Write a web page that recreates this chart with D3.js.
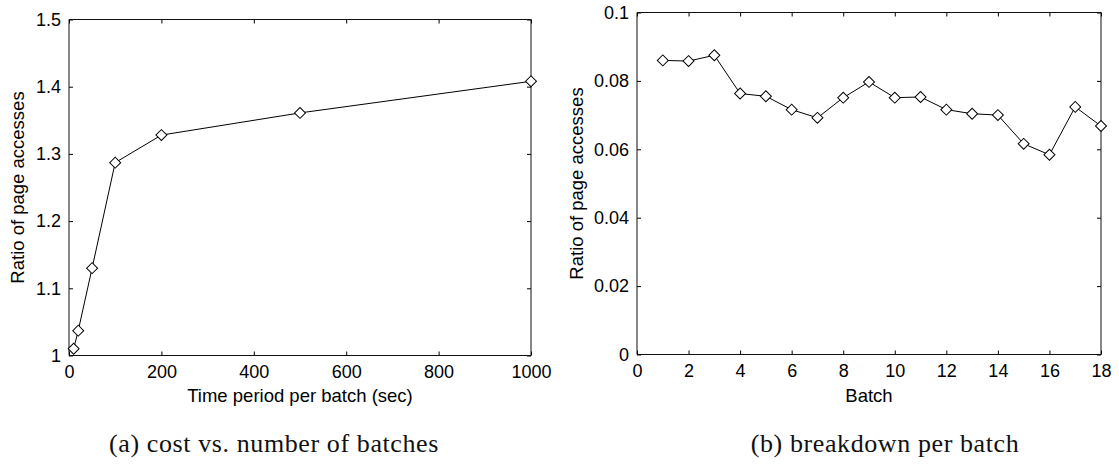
<!DOCTYPE html>
<html>
<head>
<meta charset="utf-8">
<script src="https://cdn.jsdelivr.net/npm/d3@7"></script>
<style>
  body { margin: 0; background: #fff; }
  text { font-family: "Liberation Sans", Arial, sans-serif; }
  .caption { font-family: "Liberation Serif", "DejaVu Serif", serif; }
</style>
</head>
<body>
<svg id="chart" width="1119" height="465"></svg>
<script>
// panel (a): cost vs. time period per batch
const periodX = [10, 20, 50, 100, 200, 500, 1000];
const periodRatio = [1.010, 1.037, 1.130, 1.287, 1.328, 1.361, 1.408];
const periodXTicks = [0, 200, 400, 600, 800, 1000];
const periodYTicks = [1, 1.1, 1.2, 1.3, 1.4, 1.5];

// panel (b): breakdown per batch
const batchX = [1, 2, 3, 4, 5, 6, 7, 8, 9, 10, 11, 12, 13, 14, 15, 16, 17, 18];
const batchRatio = [0.0860, 0.0858, 0.0875, 0.0763, 0.0755, 0.0716, 0.0692, 0.0751, 0.0797,
                    0.0751, 0.0753, 0.0716, 0.0704, 0.0700, 0.0616, 0.0584, 0.0724, 0.0668];
const batchXTicks = [0, 2, 4, 6, 8, 10, 12, 14, 16, 18];
const batchYTicks = [0, 0.02, 0.04, 0.06, 0.08, 0.1];

const svg = d3.select("#chart");
const tickLen = 4;
const tickFont = 18;
const titleFont = 18.5;

function panel(opts) {
  const g = svg.append("g");
  const x = d3.scaleLinear().domain(opts.xDomain).range([opts.left, opts.right]);
  const y = d3.scaleLinear().domain(opts.yDomain).range([opts.bottom, opts.top]);

  // axes with inward ticks, gnuplot style
  g.append("g")
    .attr("transform", `translate(0,${opts.bottom})`)
    .call(d3.axisBottom(x).tickValues(opts.xTicks).tickSizeInner(-tickLen).tickSizeOuter(0)
      .tickPadding(10).tickFormat(d3.format("")));
  g.append("g")
    .attr("transform", `translate(0,${opts.top})`)
    .call(d3.axisTop(x).tickValues(opts.xTicks).tickSizeInner(-tickLen).tickSizeOuter(0)
      .tickFormat(""));
  g.append("g")
    .attr("transform", `translate(${opts.left},0)`)
    .call(d3.axisLeft(y).tickValues(opts.yTicks).tickSizeInner(-tickLen).tickSizeOuter(0)
      .tickPadding(8).tickFormat(d3.format("")));
  g.append("g")
    .attr("transform", `translate(${opts.right},0)`)
    .call(d3.axisRight(y).tickValues(opts.yTicks).tickSizeInner(-tickLen).tickSizeOuter(0)
      .tickFormat(""));

  g.selectAll(".domain").remove();
  g.selectAll(".tick line").attr("stroke", "#000");
  g.selectAll(".tick text").attr("font-size", tickFont).attr("fill", "#000")
    .attr("font-family", "Liberation Sans, Arial, sans-serif");

  // frame: top/bottom crisp, sides slightly soft like the original
  const frame = g.append("g").attr("stroke", "#111").attr("stroke-width", 1);
  frame.append("line").attr("x1", opts.left).attr("x2", opts.right).attr("y1", opts.top).attr("y2", opts.top);
  frame.append("line").attr("x1", opts.left).attr("x2", opts.right).attr("y1", opts.bottom).attr("y2", opts.bottom);
  frame.append("line").attr("x1", opts.left).attr("x2", opts.left).attr("y1", opts.top).attr("y2", opts.bottom);
  frame.append("line").attr("x1", opts.right).attr("x2", opts.right).attr("y1", opts.top).attr("y2", opts.bottom);

  // line + markers
  const pts = opts.xs.map((d, i) => [d, opts.ys[i]]);
  g.append("path")
    .datum(pts)
    .attr("fill", "none").attr("stroke", "#000").attr("stroke-width", 1)
    .attr("d", d3.line().x(d => x(d[0])).y(d => y(d[1])));

  g.selectAll("path.mark")
    .data(pts)
    .enter().append("path")
    .attr("class", "mark")
    .attr("d", d3.symbol().type(d3.symbolSquare).size(60)())
    .attr("transform", d => `translate(${x(d[0])},${y(d[1])}) rotate(45)`)
    .attr("fill", "#fff").attr("stroke", "#000").attr("stroke-width", 1);

  // axis titles
  g.append("text")
    .attr("x", (opts.left + opts.right) / 2).attr("y", 402)
    .attr("text-anchor", "middle").attr("font-size", titleFont).attr("fill", "#000")
    .text(opts.xLabel);
  g.append("text")
    .attr("transform", `translate(${opts.yLabelX},${(opts.top + opts.bottom) / 2}) rotate(-90)`)
    .attr("text-anchor", "middle").attr("font-size", titleFont).attr("fill", "#000")
    .text(opts.yLabel);

  // caption
  g.append("text")
    .attr("class", "caption")
    .attr("x", opts.captionX).attr("y", 452)
    .attr("text-anchor", "middle").attr("font-size", 26).attr("letter-spacing", 0.6)
    .attr("fill", "#111")
    .text(opts.caption);
}

panel({
  left: 69, right: 531, top: 19.5, bottom: 355.5,
  xDomain: [0, 1000], yDomain: [1, 1.5],
  xTicks: periodXTicks, yTicks: periodYTicks,
  xs: periodX, ys: periodRatio,
  xLabel: "Time period per batch (sec)",
  yLabel: "Ratio of page accesses", yLabelX: 24,
  caption: "(a) cost vs. number of batches", captionX: 274
});

panel({
  left: 637, right: 1101, top: 12.5, bottom: 354.5,
  xDomain: [0, 18], yDomain: [0, 0.1],
  xTicks: batchXTicks, yTicks: batchYTicks,
  xs: batchX, ys: batchRatio,
  xLabel: "Batch",
  yLabel: "Ratio of page accesses", yLabelX: 583,
  caption: "(b) breakdown per batch", captionX: 885
});
</script>
</body>
</html>
